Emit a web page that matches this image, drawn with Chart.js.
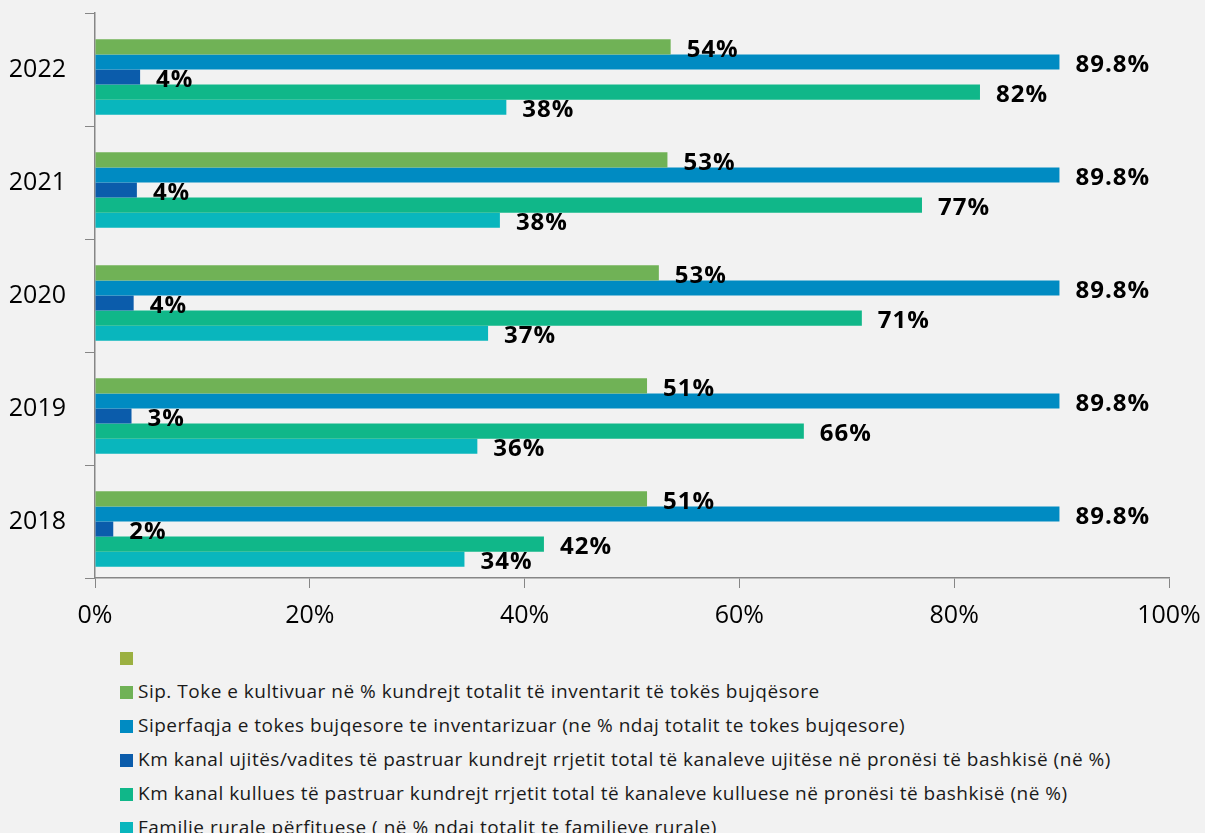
<!DOCTYPE html>
<html>
<head>
<meta charset="utf-8">
<script src="https://cdn.jsdelivr.net/npm/chart.js@4"></script>
<style>
  body { margin: 0; background: #f2f2f2; font-family: 'Open Sans', 'Noto Sans', sans-serif; }
  #wrap { position: relative; width: 1205px; height: 640px; }
  #legend { list-style: none; margin: 0; padding: 0 0 0 120px; }
  #legend li { height: 34px; line-height: 34px; font-size: 19px; letter-spacing: 0.5px; color: #1a1a1a; white-space: nowrap; }
  #legend span.box { display: inline-block; width: 13px; height: 13px; margin-right: 5px; vertical-align: -1px; }
</style>
</head>
<body>
<div id="wrap"><canvas id="chart"></canvas></div>
<ul id="legend"></ul>
<script>
// categories, top to bottom
const years = ['2022', '2021', '2020', '2019', '2018'];

// series values (%)
const tokeKultivuar = [53.6, 53.3, 52.5, 51.4, 51.4];
const tokeInventarizuar = [89.8, 89.8, 89.8, 89.8, 89.8];
const kanalUjites = [4.2, 3.9, 3.6, 3.4, 1.7];
const kanalKullues = [82.4, 77.0, 71.4, 66.0, 41.8];
const familjeRurale = [38.3, 37.7, 36.6, 35.6, 34.4];

const xTicks = [0, 20, 40, 60, 80, 100];

const seriesNames = [
    '',
    'Sip. Toke e kultivuar në % kundrejt totalit të inventarit të tokës bujqësore',
    'Siperfaqja e tokes bujqesore te inventarizuar (ne % ndaj totalit te tokes bujqesore)',
    'Km kanal ujitës/vadites të pastruar kundrejt rrjetit total të kanaleve ujitëse në pronësi të bashkisë (në %)',
    'Km kanal kullues të pastruar kundrejt rrjetit total të kanaleve kulluese në pronësi të bashkisë (në %)',
    'Familje rurale përfituese ( në % ndaj totalit te familjeve rurale)'
];
const seriesColors = ['#9bb041', '#70b256', '#008bc2', '#0b5cab', '#10b789', '#09b6bd'];
const seriesData = [[], tokeKultivuar, tokeInventarizuar, kanalUjites, kanalKullues, familjeRurale];
const seriesDecimals = [0, 0, 1, 0, 0, 0];

const axisColor = '#868686';

// draws the bold value next to each bar end
const valueLabels = {
    id: 'valueLabels',
    afterDatasetsDraw(chart) {
        const ctx = chart.ctx;
        ctx.save();
        ctx.font = "bold 24px 'Open Sans', sans-serif";
        ctx.letterSpacing = '1px';
        ctx.fillStyle = '#000';
        ctx.textAlign = 'left';
        ctx.textBaseline = 'middle';
        chart.data.datasets.forEach((ds, i) => {
            chart.getDatasetMeta(i).data.forEach((bar, j) => {
                const v = ds.data[j];
                if (v == null) return;
                ctx.fillText(v.toFixed(seriesDecimals[i]) + '%', bar.x + 16, bar.y + 3);
            });
        });
        ctx.restore();
    }
};

const chart = new Chart(document.getElementById('chart'), {
    type: 'bar',
    data: {
        labels: years,
        datasets: seriesNames.map((name, i) => ({
            label: name,
            data: seriesData[i],
            backgroundColor: seriesColors[i],
            borderWidth: 0,
            categoryPercentage: 0.8,
            barPercentage: 1
        }))
    },
    options: {
        indexAxis: 'y',
        responsive: true,
        maintainAspectRatio: false,
        animation: false,
        layout: { padding: { top: 13, right: 36, left: 0, bottom: 0 } },
        plugins: {
            legend: { display: false },
            tooltip: { enabled: false }
        },
        scales: {
            x: {
                min: 0,
                max: 100,
                afterBuildTicks: (scale) => { scale.ticks = xTicks.map(v => ({ value: v })); },
                afterFit: (scale) => {
                    scale.height = 62;
                    scale.paddingLeft = 0;
                    scale.paddingRight = 0;
                },
                grid: { drawOnChartArea: false, drawTicks: true, tickLength: 10, color: axisColor },
                border: { color: axisColor, width: 1.5 },
                ticks: {
                    padding: 13,
                    color: '#000',
                    font: { family: "'Open Sans', sans-serif", size: 25 },
                    callback: (v) => v + '%'
                }
            },
            y: {
                afterFit: (scale) => {
                    scale.width = 95;
                    scale.paddingTop = 0;
                    scale.paddingBottom = 0;
                },
                grid: { drawOnChartArea: false, drawTicks: true, tickLength: 10, offset: true, color: axisColor },
                border: { color: axisColor, width: 1.5 },
                ticks: {
                    padding: 19,
                    color: '#000',
                    font: { family: "'Open Sans', sans-serif", size: 25 }
                }
            }
        }
    },
    plugins: [valueLabels]
});

// vertical legend under the chart
const legend = document.getElementById('legend');
seriesNames.forEach((name, i) => {
    const li = document.createElement('li');
    li.innerHTML = '<span class="box" style="background:' + seriesColors[i] + '"></span>' + name;
    legend.appendChild(li);
});
</script>
</body>
</html>
